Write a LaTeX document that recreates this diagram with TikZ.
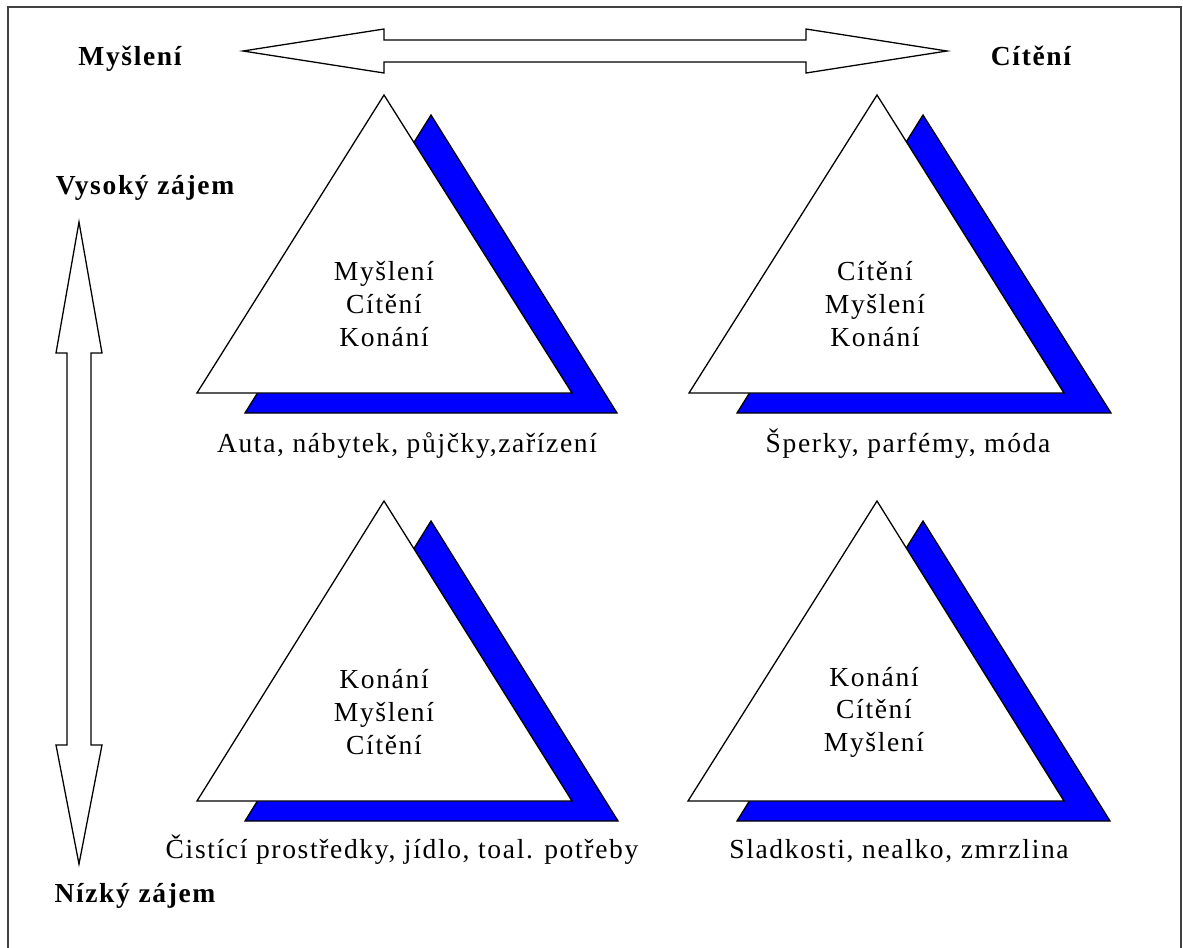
\documentclass[tikz,border=0pt]{standalone}
\usepackage{fontspec}
\setmainfont{Liberation Serif}[LetterSpace=6]
\usetikzlibrary{positioning}
\definecolor{shadow_blue}{RGB}{0, 0, 255}
\definecolor{frame_grey}{RGB}{64, 64, 64}
\def \txtsize {\fontsize{23.5}{27.8}\selectfont}

\begin{document}
\begin{tikzpicture}[
    x=0.03cm, y=-0.03cm,
    tri/.style={
        draw=black,
        fill=#1,
        line width=1.1pt,
        line join=miter
    },
    blockarrow/.style={
        draw=black,
        fill=white,
        line width=1.1pt,
        line join=miter
    },
    pole/.style={
        anchor=base,
        inner sep=0pt,
        font=\txtsize\bfseries
    },
    order/.style={
        align=center,
        inner sep=0pt,
        font=\txtsize
    },
    goods/.style={
        anchor=base,
        inner sep=0pt,
        font=\txtsize
    }
]
\useasboundingbox (0,0) rectangle (1183,947);

% Frame (bottom edge runs off the page)
\draw[frame_grey, line width=1pt] (8,952) -- (8,7) -- (1181,7) -- (1181,952);

% Poles of the horizontal axis
\node[pole] (thinking) at (130,65) {Myšlení};
\node[pole] (feeling) at (1031,65) {Cítění};

% Poles of the vertical axis
\node[pole] (highinv) at (145,194) {Vysoký zájem};
\node[pole] (lowinv) at (135,902) {Nízký zájem};

% Horizontal block arrow
\coordinate (hleft) at (243,51);
\coordinate (hright) at (947,51);
\draw[blockarrow] (hleft) -- (384,29) -- (384,40) -- (806,40) -- (806,29)
    -- (hright) -- (806,73) -- (806,62) -- (384,62) -- (384,73) -- cycle;

% Vertical block arrow
\coordinate (vtop) at (79,222);
\coordinate (vbottom) at (79,864);
\draw[blockarrow] (vtop) -- (102,353) -- (91,353) -- (91,745) -- (102,745)
    -- (vbottom) -- (56,745) -- (67,745) -- (67,353) -- (56,353) -- cycle;

% Top left triangle
\draw[tri=shadow_blue] (431,115) -- (617,413) -- (245,413) -- cycle;
\draw[tri=white] (384,95) -- (572,393) -- (197,393) -- cycle;
\node[order] (tlorder) at (384,304) {Myšlení\\Cítění\\Konání};
\node[goods] (tlgoods) at (407,452) {Auta, nábytek, půjčky,zařízení};

% Top right triangle
\draw[tri=shadow_blue] (923,115) -- (1111,413) -- (737,413) -- cycle;
\draw[tri=white] (877,95) -- (1064,393) -- (689,393) -- cycle;
\node[order] (trorder) at (875,304) {Cítění\\Myšlení\\Konání};
\node[goods] (trgoods) at (908,452) {Šperky, parfémy, móda};

% Bottom left triangle
\draw[tri=shadow_blue] (431,521) -- (618,821) -- (245,821) -- cycle;
\draw[tri=white] (384,501) -- (572,801) -- (197,801) -- cycle;
\node[order] (blorder) at (384,712) {Konání\\Myšlení\\Cítění};
\node[goods] (blgoods) at (402,858) {Čistící prostředky, jídlo, toal. potřeby};

% Bottom right triangle
\draw[tri=shadow_blue] (923,521) -- (1110,821) -- (737,821) -- cycle;
\draw[tri=white] (877,501) -- (1064,801) -- (688,801) -- cycle;
\node[order] (brorder) at (874,712) {Konání\\Cítění\\Myšlení};
\node[goods] (brgoods) at (899,858) {Sladkosti, nealko, zmrzlina};

\end{tikzpicture}
\end{document}
